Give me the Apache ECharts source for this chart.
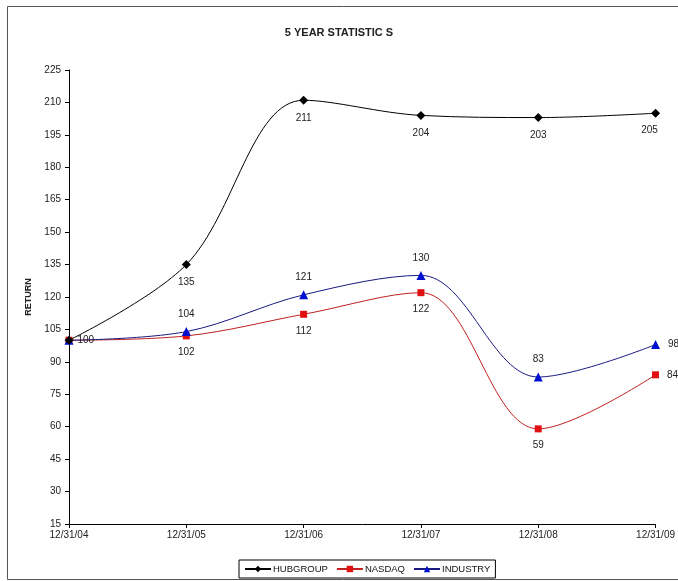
<!DOCTYPE html>
<html>
<head>
<meta charset="utf-8">
<script src="https://cdn.jsdelivr.net/npm/echarts@6/dist/echarts.min.js"></script>
<style>
html,body{margin:0;padding:0;background:#fff;}
#c{width:678px;height:581px;}
</style>
</head>
<body>
<div id="c"></div>
<script>
const categories = ['12/31/04','12/31/05','12/31/06','12/31/07','12/31/08','12/31/09'];
const hubgroup = [100, 135, 211, 204, 203, 205];
const nasdaq = [100, 102, 112, 122, 59, 84];
const industry = [100, 104, 121, 130, 83, 98];

const hubPos = ['right','bottom','bottom','bottom','bottom','bottom'];
const nasPos = [null,'bottom','bottom','bottom','bottom','right'];
const indPos = [null,'top','top','top','top','right'];

const FONT = '"Liberation Sans", Arial, sans-serif';

function mk(vals, pos, offsets) {
  return vals.map((v, i) => {
    const p = pos[i];
    if (!p) return { value: v, label: { show: false } };
    const lab = { show: true, position: p, distance: 8 };
    if (offsets && offsets[i]) lab.offset = offsets[i];
    return { value: v, label: lab };
  });
}

const chart = echarts.init(document.getElementById('c'));
chart.setOption({
  animation: false,
  backgroundColor: '#fff',
  title: {
    text: '5 YEAR STATISTIC S',
    left: 'center',
    top: 22,
    textStyle: { fontFamily: FONT, fontSize: 11, fontWeight: 'bold', color: '#222' }
  },
  graphic: [{
    type: 'rect',
    shape: { x: 7.5, y: 6.5, width: 680, height: 573 },
    style: { fill: 'none', stroke: '#555', lineWidth: 1 },
    silent: true, z: -1
  }],
  legend: {
    bottom: 3,
    left: 239,
    data: ['HUBGROUP', 'NASDAQ', 'INDUSTRY'],
    borderColor: '#000',
    borderWidth: 1,
    padding: [4, 5],
    itemGap: 8,
    itemWidth: 26,
    itemHeight: 8,
    textStyle: { fontFamily: FONT, fontSize: 9.5, color: '#111', padding: [0, 0, 0, -3] }
  },
  grid: { left: 69, right: 18, top: 70, bottom: 57 },
  xAxis: {
    type: 'category',
    data: categories,
    boundaryGap: false,
    axisLine: { lineStyle: { color: '#000', width: 1 } },
    axisTick: { show: true, alignWithLabel: true, length: 4, lineStyle: { color: '#000' } },
    axisLabel: { fontFamily: FONT, fontSize: 10, color: '#222', margin: 6, showMinLabel: true, showMaxLabel: true, interval: 0 },
    splitLine: { show: false }
  },
  yAxis: {
    type: 'value',
    min: 15,
    max: 225,
    interval: 15,
    name: 'RETURN',
    nameLocation: 'middle',
    nameGap: 36,
    nameRotate: 90,
    nameTextStyle: { fontFamily: FONT, fontSize: 9, fontWeight: 'bold', color: '#222' },
    axisLine: { show: true, lineStyle: { color: '#000', width: 1 } },
    axisTick: { show: true, length: 4, lineStyle: { color: '#000' } },
    axisLabel: { fontFamily: FONT, fontSize: 10, color: '#222', margin: 8 },
    splitLine: { show: false }
  },
  series: [
    {
      name: 'HUBGROUP',
      type: 'line',
      smooth: 0.35,
      symbol: 'diamond',
      symbolSize: 9,
      itemStyle: { color: '#000' },
      lineStyle: { color: '#000', width: 1 },
      label: { fontFamily: FONT, fontSize: 10, color: '#222' },
      data: mk(hubgroup, hubPos, {0: [-4, 0], 5: [-6, 0]}),
      z: 3
    },
    {
      name: 'NASDAQ',
      type: 'line',
      smooth: 0.35,
      symbol: 'rect',
      symbolSize: 7,
      itemStyle: { color: '#e01010' },
      lineStyle: { color: '#c02020', width: 1 },
      label: { fontFamily: FONT, fontSize: 10, color: '#222' },
      data: mk(nasdaq, nasPos),
      z: 2
    },
    {
      name: 'INDUSTRY',
      type: 'line',
      smooth: 0.35,
      symbol: 'triangle',
      symbolSize: 9,
      itemStyle: { color: '#0010d0' },
      lineStyle: { color: '#1a1a80', width: 1 },
      label: { fontFamily: FONT, fontSize: 10, color: '#222' },
      data: mk(industry, indPos),
      z: 2
    }
  ]
});
</script>
</body>
</html>
